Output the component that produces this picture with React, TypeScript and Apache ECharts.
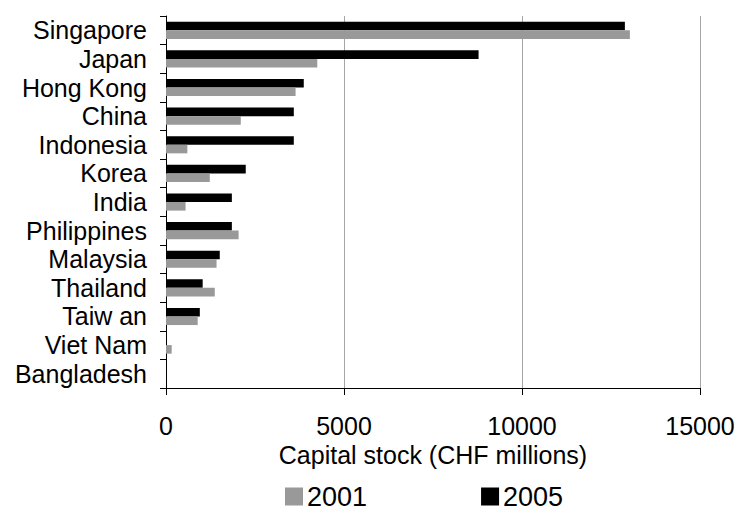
import React, { useEffect, useRef } from "react";
import * as echarts from "echarts";

// Asian economies, top to bottom as drawn
const countries = [
  "Singapore",
  "Japan",
  "Hong Kong",
  "China",
  "Indonesia",
  "Korea",
  "India",
  "Philippines",
  "Malaysia",
  "Thailand",
  "Taiw an",
  "Viet Nam",
  "Bangladesh",
];

// Capital stock, CHF millions
const stock2001 = [13030, 4250, 3640, 2100, 600, 1230, 550, 2040, 1420, 1370, 890, 160, 0];
const stock2005 = [12890, 8780, 3870, 3590, 3590, 2240, 1850, 1850, 1510, 1030, 950, 0, 0];

const xTicks = { min: 0, max: 15000, interval: 5000 };

const FONT = "'Liberation Sans', Arial, Helvetica, sans-serif";

export default function App() {
  const ref = useRef<HTMLDivElement>(null);

  useEffect(() => {
    document.body.style.margin = "0";
    const chart = echarts.init(ref.current!, null, { renderer: "svg" });
    chart.setOption({
      animation: false,
      backgroundColor: "#ffffff",
      textStyle: { fontFamily: FONT, color: "#000" },
      grid: { left: 166, right: 39, top: 16, bottom: 122, containLabel: false },
      legend: {
        data: ["2001", "2005"],
        left: 285,
        top: 483,
        padding: 0,
        itemWidth: 18,
        itemHeight: 18,
        itemGap: 114,
        icon: "rect",
        textStyle: {
          fontSize: 27,
          lineHeight: 26,
          color: "#000",
          fontFamily: FONT,
          padding: [0, 0, 0, -1],
        },
      },
      xAxis: {
        type: "value",
        min: xTicks.min,
        max: xTicks.max,
        interval: xTicks.interval,
        name: "Capital stock (CHF millions)",
        nameLocation: "middle",
        nameGap: 52,
        nameTextStyle: { fontSize: 25, color: "#000", fontFamily: FONT },
        axisLine: { show: true, lineStyle: { color: "#000", width: 1 } },
        axisTick: { show: true, length: 7, lineStyle: { color: "#000" } },
        axisLabel: {
          fontSize: 25,
          color: "#000",
          margin: 25,
          fontFamily: FONT,
          formatter: (v: number) => String(v),
        },
        splitLine: { show: true, lineStyle: { color: "#a6a6a6", width: 1 } },
      },
      yAxis: {
        type: "category",
        data: countries,
        inverse: true,
        axisLine: { show: true, lineStyle: { color: "#000", width: 1 } },
        axisTick: { show: true, length: 6, lineStyle: { color: "#000" } },
        axisLabel: { fontSize: 25, color: "#000", margin: 19, fontFamily: FONT, interval: 0 },
        splitLine: { show: false },
      },
      series: [
        {
          name: "2005",
          type: "bar",
          data: stock2005,
          itemStyle: { color: "#000000" },
          barGap: "0%",
          barCategoryGap: "40%",
        },
        {
          name: "2001",
          type: "bar",
          data: stock2001,
          itemStyle: { color: "#999999" },
          barGap: "0%",
          barCategoryGap: "40%",
        },
      ],
    });
    return () => chart.dispose();
  }, []);

  return (
    <div
      ref={ref}
      style={{ position: "absolute", left: 0, top: 0, width: 739, height: 510 }}
    />
  );
}
